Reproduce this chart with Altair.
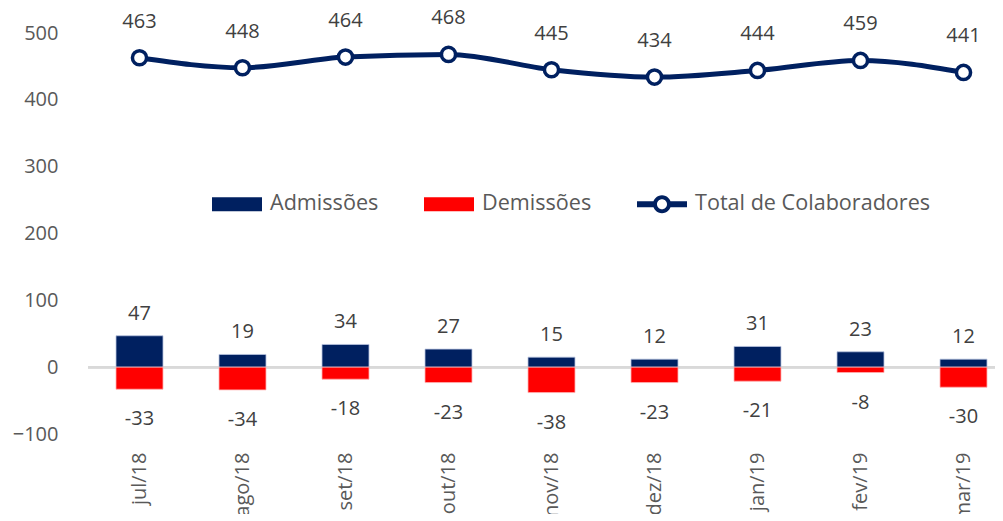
import altair as alt
import pandas as pd

months = ["jul/18", "ago/18", "set/18", "out/18", "nov/18", "dez/18", "jan/19", "fev/19", "mar/19"]
admissoes = [47, 19, 34, 27, 15, 12, 31, 23, 12]
demissoes = [-33, -34, -18, -23, -38, -23, -21, -8, -30]
total = [463, 448, 464, 468, 445, 434, 444, 459, 441]
series_names = ["Admissões", "Demissões", "Total de Colaboradores"]

NAVY = "#002060"
RED = "#FF0000"
FONT = "Open Sans"

df = pd.DataFrame({"mes": months, "adm": admissoes, "dem": demissoes, "total": total})
legend_df = pd.DataFrame({"series": series_names})

x = alt.X("mes:N", sort=months, title=None,
          scale=alt.Scale(paddingInner=0, paddingOuter=0, range=[0, 927]),
          axis=alt.Axis(labelAngle=-90, labelFontSize=20, labelColor="#595959", labelFont=FONT,
                        ticks=False, domain=False, labelPadding=18))
yscale = alt.Scale(domain=[-100, 500], nice=False, zero=False)
yaxis = alt.Axis(values=[-100, 0, 100, 200, 300, 400, 500], labelFontSize=20, labelColor="#595959",
                 labelFont=FONT, ticks=False, domain=False, grid=False, labelPadding=30)

base = alt.Chart(df)

zero = base.mark_rule(color="#d9d9d9", strokeWidth=2).encode(
    y=alt.datum(0, scale=yscale, axis=yaxis, type="quantitative"))

bar_adm = base.mark_bar(size=47, color=NAVY, stroke="#b9c4e0", strokeWidth=0.8).encode(
    x=x, y=alt.Y("adm:Q", scale=yscale, axis=yaxis, title=None))
bar_dem = base.mark_bar(size=47, color=RED, stroke="#ffb0b0", strokeWidth=0.8).encode(
    x=x, y=alt.Y("dem:Q", scale=yscale, title=None))

lbl_adm = base.mark_text(fontSize=20, font=FONT, color="#404040", dy=-22).encode(
    x=x, y=alt.Y("adm:Q", scale=yscale), text="adm:N")
lbl_dem = base.mark_text(fontSize=20, font=FONT, color="#404040", dy=30).encode(
    x=x, y=alt.Y("dem:Q", scale=yscale), text="dem:N")

line = base.mark_line(color=NAVY, strokeWidth=5, interpolate="monotone").encode(
    x=x, y=alt.Y("total:Q", scale=yscale))
pts = base.mark_point(filled=True, fill="white", stroke=NAVY, strokeWidth=3.5, size=200, opacity=1).encode(
    x=x, y=alt.Y("total:Q", scale=yscale))
lbl_tot = base.mark_text(fontSize=20, font=FONT, color="#404040", dy=-36).encode(
    x=x, y=alt.Y("total:Q", scale=yscale), text="total:N")

rect_path = "M-1,-0.28H1V0.28H-1Z"
line_path = ("M-1,-0.12H-0.33V0.12H-1Z M0.33,-0.12H1V0.12H0.33Z "
             "M0,-0.36A0.36,0.36 0 1,1 0,0.36A0.36,0.36 0 1,1 0,-0.36Z "
             "M0,-0.2A0.2,0.2 0 1,0 0,0.2A0.2,0.2 0 1,0 0,-0.2Z")

legend_cfg = dict(title=None, orient="none", legendX=124, legendY=146,
                  direction="horizontal", columns=3, symbolSize=2500,
                  symbolOpacity=1, symbolStrokeWidth=0,
                  labelFontSize=21.6, labelFont=FONT, labelColor="#595959",
                  labelOffset=8, columnPadding=45, symbolLimit=0, labelLimit=400)

leg = alt.Chart(legend_df).mark_point(filled=True, opacity=0).encode(
    color=alt.Color("series:N", scale=alt.Scale(domain=series_names, range=[NAVY, RED, NAVY]),
                    legend=alt.Legend(**legend_cfg)),
    shape=alt.Shape("series:N", scale=alt.Scale(domain=series_names, range=[rect_path, rect_path, line_path]),
                    legend=alt.Legend(**legend_cfg)),
)

chart = alt.layer(zero, bar_adm, bar_dem, lbl_adm, lbl_dem, line, pts, lbl_tot, leg).properties(
    width=907, height=401,
    padding={"left": 80, "top": 25, "right": 0, "bottom": 80},
    autosize=alt.AutoSizeParams(type="none"),
    background="white",
).configure_view(stroke=None)

chart.save("out.html", embed_options={"renderer": "svg", "actions": False})
